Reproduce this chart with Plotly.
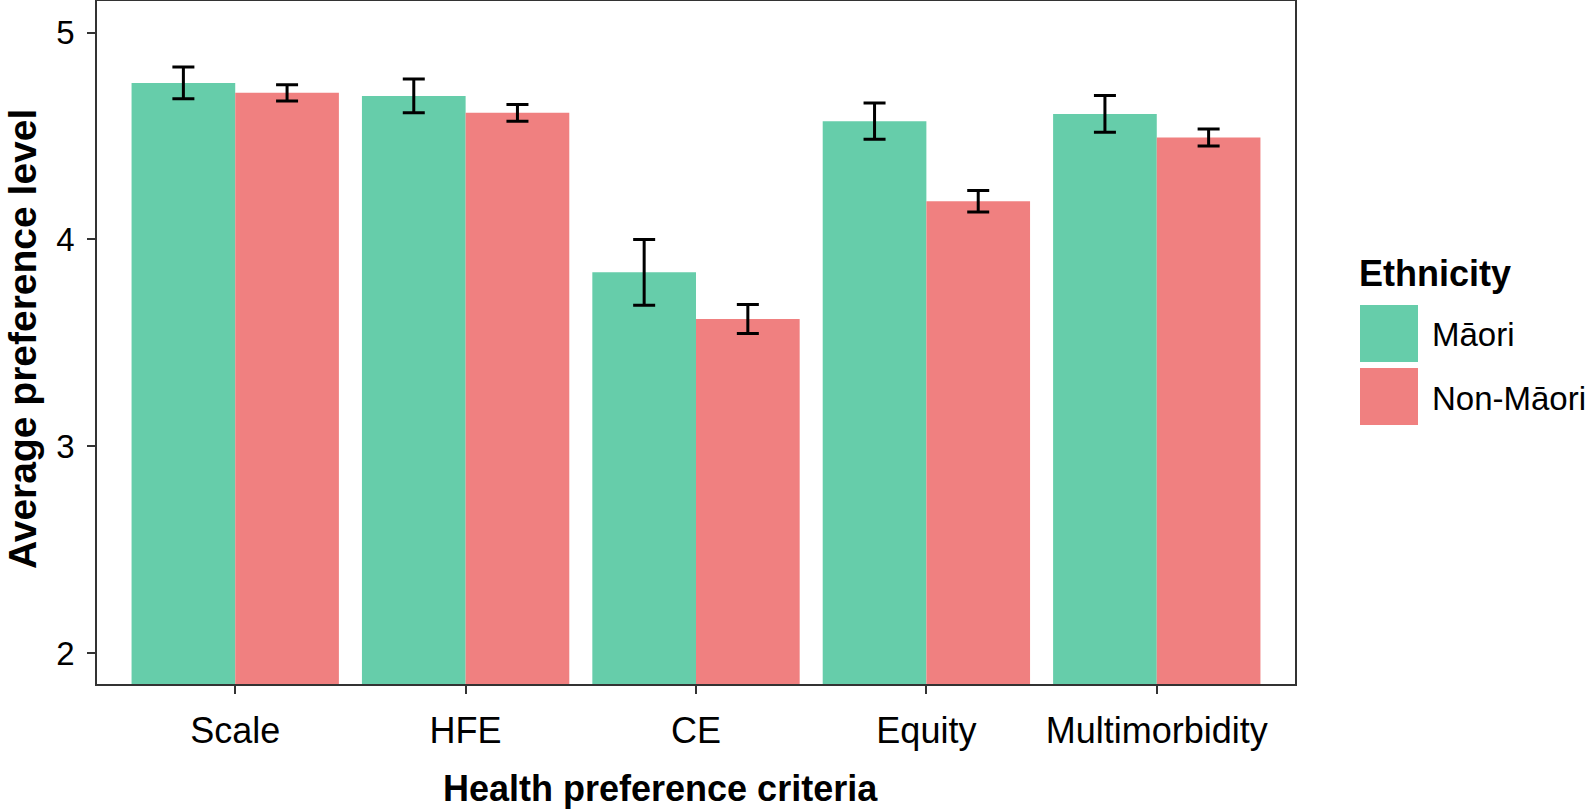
import plotly.graph_objects as go

categories = ["Scale", "HFE", "CE", "Equity", "Multimorbidity"]
maori_mean = [4.757, 4.694, 3.841, 4.572, 4.607]
maori_err = [0.077, 0.082, 0.159, 0.088, 0.089]
nonmaori_mean = [4.709, 4.612, 3.615, 4.184, 4.493]
nonmaori_err = [0.039, 0.040, 0.070, 0.052, 0.041]
series_names = ["Māori", "Non-Māori"]
colors = ["#66CDAA", "#F08080"]
yticks = [2, 3, 4, 5]

FONT = "Liberation Sans, Arial, sans-serif"
W, H = 1595, 809
L, R, T, B = 97, 1295, 1, 684

fig = go.Figure()
for name, vals, errs, col in [(series_names[0], maori_mean, maori_err, colors[0]),
                              (series_names[1], nonmaori_mean, nonmaori_err, colors[1])]:
    fig.add_trace(go.Bar(
        x=categories, y=vals, name=name,
        marker=dict(color=col, line=dict(width=0)),
        error_y=dict(type="data", array=errs, visible=True,
                     color="black", thickness=3, width=11),
        showlegend=False,
    ))

def px_x(px):
    return (px - L) / (R - L)

def px_y(py):
    return (B - py) / (B - T)

shapes = []
annotations = []
# axis titles
annotations.append(dict(text="<b>Health preference criteria</b>", x=px_x(660), y=px_y(788),
                        xref="paper", yref="paper", xanchor="center", yanchor="middle",
                        showarrow=False, font=dict(family=FONT, size=36, color="black")))
annotations.append(dict(text="<b>Average preference level</b>", x=px_x(23), y=px_y(339),
                        xref="paper", yref="paper", xanchor="center", yanchor="middle",
                        textangle=-90, showarrow=False,
                        font=dict(family=FONT, size=39, color="black")))
# custom legend (large swatches as in the reference)
annotations.append(dict(text="<b>Ethnicity</b>", x=px_x(1357), y=px_y(273), xref="paper", yref="paper",
                        xanchor="left", yanchor="middle", showarrow=False,
                        font=dict(family=FONT, size=36, color="black")))
legend_rows = [(305, 362, 335), (368, 425, 398)]
for (y0, y1, yc), name, col in zip(legend_rows, series_names, colors):
    shapes.append(dict(type="rect", xref="paper", yref="paper",
                       x0=px_x(1360), x1=px_x(1418), y0=px_y(y1), y1=px_y(y0),
                       fillcolor=col, line=dict(width=0)))
    annotations.append(dict(text=name, x=px_x(1430), y=px_y(yc), xref="paper", yref="paper",
                            xanchor="left", yanchor="middle", showarrow=False,
                            font=dict(family=FONT, size=33, color="black")))

fig.update_layout(
    width=W, height=H,
    margin=dict(l=L, r=W - R, t=T, b=H - B, pad=0, autoexpand=False),
    paper_bgcolor="white", plot_bgcolor="white",
    barmode="group", bargap=0.1, bargroupgap=0,
    showlegend=False,
    shapes=shapes, annotations=annotations,
    font=dict(family=FONT, color="black"),
)
fig.update_xaxes(
    range=[-0.6, 4.6], showgrid=False, zeroline=False, automargin=False,
    showline=True, mirror=True, linecolor="#333333", linewidth=1.6,
    ticks="outside", ticklen=8, tickwidth=2, tickcolor="#333333",
    tickfont=dict(family=FONT, size=36, color="black"),
    ticklabelstandoff=6,
)
fig.update_yaxes(
    range=[1.85, 5.153], tickvals=yticks, showgrid=False, zeroline=False, automargin=False,
    showline=True, mirror=True, linecolor="#333333", linewidth=1.6,
    ticks="outside", ticklen=8, tickwidth=2, tickcolor="#333333",
    tickfont=dict(family=FONT, size=33, color="black"),
    ticklabelstandoff=6,
)

fig.write_html("out.html", config={"displayModeBar": False},
               post_script="document.body.style.margin='0';document.body.style.overflow='hidden';")
